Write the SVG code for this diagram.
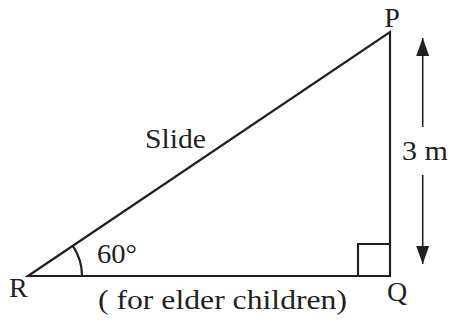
<svg xmlns="http://www.w3.org/2000/svg" width="450" height="322" viewBox="0 0 450 322">
<defs>
<style>
.t{font-family:"Liberation Serif","Times New Roman",serif;font-size:28px;fill:#231f20}
.ln{stroke:#231f20;stroke-width:2.2;fill:none;stroke-linecap:butt}
.ar{stroke:#231f20;stroke-width:1.6;fill:none}
</style>
<marker id="ah" viewBox="0 0 13 18" refX="13" refY="6.5" markerWidth="18" markerHeight="13" markerUnits="userSpaceOnUse" orient="auto">
<path d="M0,0 L18,6.5 L0,13 Z" fill="#231f20"/>
</marker>
<marker id="ah2" viewBox="0 0 18 13" refX="18" refY="6.5" markerWidth="18" markerHeight="13" markerUnits="userSpaceOnUse" orient="auto">
<path d="M0,0 L18,6.5 L0,13 Z" fill="#231f20"/>
</marker>
</defs>
<g id="triangle">
<path class="ln" d="M28,276 L390,276 L390,32 Z" stroke-linejoin="miter"/>
<path class="ln" d="M358,276 L358,244 L390,244"/>
<path class="ln" d="M82,276 A54,54 0 0 0 72.8,245.8"/>
</g>
<g id="connectors">
<line class="ar" x1="422.7" y1="127" x2="422.7" y2="38" marker-end="url(#ah2)"/>
<line class="ar" x1="422.7" y1="175" x2="422.7" y2="264" marker-end="url(#ah2)"/>
</g>
<g id="labels">
<text class="t" x="392" y="27" text-anchor="middle">P</text>
<text class="t" x="9" y="297">R</text>
<text class="t" x="387" y="301">Q</text>
<text class="t" x="145" y="148" textLength="61" lengthAdjust="spacingAndGlyphs">Slide</text>
<text class="t" x="97" y="263" textLength="40" lengthAdjust="spacingAndGlyphs">60°</text>
<text class="t" x="402" y="160" textLength="46" lengthAdjust="spacingAndGlyphs">3 m</text>
<text class="t" x="98" y="309" textLength="249" lengthAdjust="spacingAndGlyphs">( for elder children)</text>
</g>
</svg>
